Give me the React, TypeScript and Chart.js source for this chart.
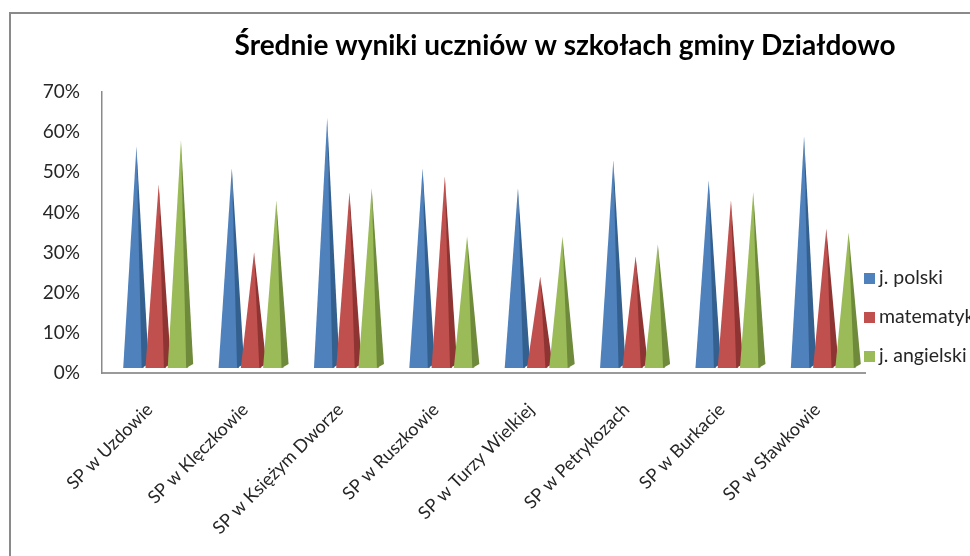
import React, { useEffect, useRef } from "react";
import { Chart, registerables } from "chart.js";

Chart.register(...registerables);

const TITLE = "Średnie wyniki uczniów w szkołach gminy Działdowo";
const categories = [
  "SP w Uzdowie",
  "SP w Klęczkowie",
  "SP w Księżym Dworze",
  "SP w Ruszkowie",
  "SP w Turzy Wielkiej",
  "SP w Petrykozach",
  "SP w Burkacie",
  "SP w Sławkowie",
];
const seriesNames = ["j. polski", "matematyka", "j. angielski"];
const polski = [56.5, 51, 63.5, 51, 46, 53, 48, 59];
const matematyka = [47, 30, 45, 49, 24, 29, 43, 36];
const angielski = [58, 43, 46, 34, 34, 32, 45, 35];
const yTickValues = [0, 10, 20, 30, 40, 50, 60, 70];

const FRONT = ["#4F81BD", "#C0504D", "#9BBB59"];
const SIDE = ["#34608F", "#8E3432", "#6E8A3A"];
const FONT = "Lato, 'Open Sans', sans-serif";

const framePlugin = {
  id: "frame",
  beforeDraw(chart: any) {
    const ctx = chart.ctx;
    ctx.save();
    ctx.fillStyle = "#ffffff";
    ctx.fillRect(0, 0, chart.width, chart.height);
    ctx.fillStyle = "#8a8a8a";
    ctx.fillRect(9, 12, 2, chart.height - 12);
    ctx.fillRect(9, 12, chart.width - 9, 2);
    ctx.restore();
  },
  afterDraw(chart: any) {
    const ctx = chart.ctx;
    ctx.save();
    ctx.fillStyle = "#000000";
    ctx.font = `bold 28px ${FONT}`;
    ctx.textAlign = "center";
    ctx.textBaseline = "middle";
    ctx.fillText(TITLE, 565, 46);
    // legend
    const ys = [278, 317, 356];
    ctx.font = `19.5px ${FONT}`;
    ctx.textAlign = "left";
    seriesNames.forEach((n, i) => {
      ctx.fillStyle = FRONT[i];
      ctx.fillRect(864, ys[i] - 5, 11, 11);
      ctx.fillStyle = "#262626";
      ctx.fillText(n, 879, ys[i]);
    });
    ctx.restore();
  },
};

const pyramidPlugin = {
  id: "pyramids",
  afterDatasetsDraw(chart: any) {
    const ctx = chart.ctx;
    ctx.save();
    chart.data.datasets.forEach((_ds: any, i: number) => {
      const meta = chart.getDatasetMeta(i);
      meta.data.forEach((el: any) => {
        const { x, y, base, width } = el.getProps(["x", "y", "base", "width"], true);
        const sx = x + 6;
        const b = base - 5;
        const fw = width * 0.92;
        const xL = sx - fw / 2;
        const xR = sx + fw / 2;
        const tipX = sx + 3;
        ctx.fillStyle = FRONT[i];
        ctx.beginPath();
        ctx.moveTo(xL, b);
        ctx.lineTo(xR, b);
        ctx.lineTo(tipX, y);
        ctx.closePath();
        ctx.fill();
        ctx.fillStyle = SIDE[i];
        ctx.beginPath();
        ctx.moveTo(xR - 2, b);
        ctx.lineTo(xR + 5, b - 4);
        ctx.lineTo(tipX, y);
        ctx.closePath();
        ctx.fill();
      });
    });
    ctx.restore();
  },
};

export default function App() {
  const ref = useRef<HTMLCanvasElement>(null);
  useEffect(() => {
    if (!ref.current) return;
    const chart = new Chart(ref.current, {
      type: "bar",
      data: {
        labels: categories,
        datasets: [polski, matematyka, angielski].map((d, i) => ({
          label: seriesNames[i],
          data: d,
          backgroundColor: "rgba(0,0,0,0)",
          borderWidth: 0,
          categoryPercentage: 0.7,
          barPercentage: 1.0,
        })),
      },
      options: {
        animation: false,
        responsive: false,
        maintainAspectRatio: false,
        layout: { padding: { top: 92, right: 105, left: 0, bottom: 0 } },
        plugins: {
          legend: { display: false },
          title: { display: false },
          tooltip: { enabled: false },
        },
        scales: {
          x: {
            grid: { display: false, drawTicks: false },
            border: { display: true, color: "#9a9a9a", width: 2 },
            ticks: {
              color: "#262626",
              font: { family: FONT, size: 18 },
              maxRotation: 45,
              minRotation: 45,
              padding: 26,
              autoSkip: false,
            },
            afterFit: (s: any) => {
              s.height = 183;
            },
          },
          y: {
            min: 0,
            max: 70,
            afterBuildTicks: (s: any) => {
              s.ticks = yTickValues.map((v) => ({ value: v }));
            },
            grid: { display: false, drawTicks: false },
            border: { display: true, color: "#8a8a8a", width: 1.5 },
            ticks: {
              color: "#262626",
              font: { family: FONT, size: 19 },
              padding: 22,
              callback: (v: any) => `${v}%`,
            },
            afterFit: (s: any) => {
              s.width = 102;
            },
          },
        },
      },
      plugins: [framePlugin, pyramidPlugin],
    });
    return () => chart.destroy();
  }, []);
  return (
    <div style={{ position: "absolute", left: 0, top: 0, width: 970, height: 556 }}>
      <canvas ref={ref} width={970} height={556} style={{ display: "block" }} />
    </div>
  );
}
